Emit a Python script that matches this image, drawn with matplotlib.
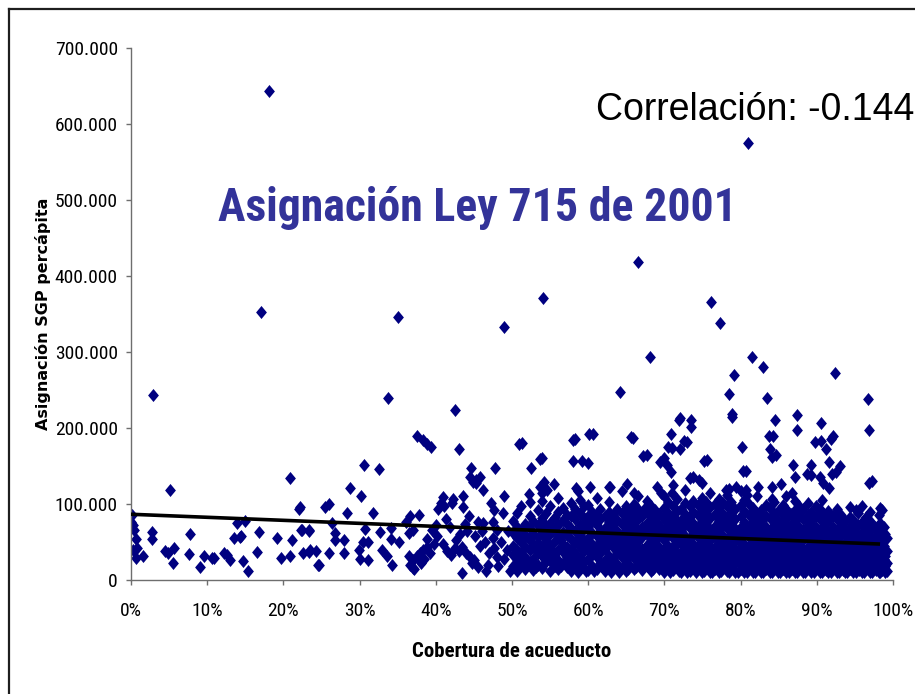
import os
import numpy as np
import matplotlib
matplotlib.use("Agg")
import matplotlib.pyplot as plt
from matplotlib.path import Path
from matplotlib.lines import Line2D
from matplotlib import font_manager as fm

# ---------------- data (cobertura fraction, asignación in miles de pesos) ----------------
puntos_0_25 = [
    (0.001, 86), (0.002, 72), (0.000, 76), (0.004, 66), (0.007, 54), (0.003, 39), (0.008, 42),
    (0.007, 29), (0.016, 32), (0.028, 63), (0.028, 54), (0.045, 38), (0.048, 35), (0.055, 22),
    (0.057, 42), (0.051, 118), (0.0285, 244), (0.076, 34), (0.078, 60), (0.090, 17), (0.096, 32),
    (0.106, 29), (0.109, 29), (0.122, 35), (0.126, 33), (0.130, 26), (0.135, 55), (0.143, 57),
    (0.144, 58), (0.139, 75), (0.150, 77), (0.147, 25), (0.153, 12), (0.165, 37), (0.168, 63),
    (0.171, 353), (0.181, 643), (0.191, 55), (0.197, 29), (0.209, 32), (0.209, 134), (0.211, 52),
    (0.221, 94), (0.223, 66), (0.226, 35), (0.234, 37), (0.243, 38), (0.234, 66), (0.245, 20),
]

puntos_22_50 = [
    (0.222, 96), (0.254, 96), (0.260, 100), (0.283, 88), (0.318, 88), (0.264, 75), (0.225, 66),
    (0.233, 64), (0.268, 62), (0.268, 52), (0.280, 52), (0.235, 39), (0.247, 20), (0.260, 35),
    (0.280, 35), (0.299, 39), (0.305, 50), (0.311, 50), (0.311, 26), (0.300, 28), (0.307, 67),
    (0.327, 63), (0.330, 39), (0.336, 31), (0.343, 20), (0.341, 54), (0.352, 50), (0.341, 68),
    (0.361, 76), (0.366, 84), (0.378, 85), (0.365, 62), (0.370, 66), (0.365, 31), (0.370, 26),
    (0.375, 31), (0.379, 35), (0.383, 39), (0.388, 43), (0.366, 20), (0.370, 16), (0.389, 54),
    (0.395, 66), (0.400, 72), (0.403, 93), (0.407, 101), (0.409, 109), (0.421, 101), (0.436, 110),
    (0.436, 96), (0.287, 121), (0.302, 110), (0.306, 151), (0.325, 146), (0.337, 239),
    (0.350, 346), (0.375, 190), (0.383, 184), (0.388, 179), (0.394, 175), (0.425, 224),
    (0.430, 172), (0.446, 148), (0.445, 135), (0.449, 129), (0.453, 127), (0.458, 135),
    (0.462, 118), (0.434, 9), (0.410, 47), (0.415, 38), (0.420, 33), (0.425, 42), (0.430, 38),
    (0.435, 44), (0.440, 35), (0.445, 30), (0.450, 26), (0.432, 60), (0.441, 64), (0.452, 58),
    (0.460, 64), (0.447, 22), (0.455, 17), (0.466, 12), (0.470, 36), (0.476, 42), (0.480, 30),
    (0.486, 50), (0.478, 148), (0.490, 333), (0.472, 101), (0.477, 92), (0.455, 76), (0.462, 75),
    (0.475, 76), (0.480, 66), (0.465, 50), (0.488, 88), (0.458, 45), (0.468, 20), (0.475, 55),
    (0.490, 28), (0.494, 40), (0.495, 65), (0.372, 15), (0.380, 22), (0.385, 28), (0.392, 36),
    (0.397, 48), (0.402, 58), (0.423, 106), (0.411, 97), (0.413, 80), (0.418, 70), (0.427, 52),
    (0.438, 74), (0.444, 84), (0.482, 18), (0.498, 12), (0.489, 110),
]

puntos_altos = [
    (0.541, 371), (0.666, 419), (0.681, 293), (0.642, 247), (0.761, 366), (0.773, 338),
    (0.810, 575), (0.815, 293), (0.829, 280), (0.924, 272), (0.791, 270), (0.785, 245),
    (0.834, 239), (0.967, 238), (0.789, 219), (0.789, 215), (0.845, 211), (0.874, 217),
    (0.874, 197), (0.906, 206), (0.969, 197), (0.720, 213), (0.735, 211), (0.735, 201),
    (0.709, 192), (0.705, 175), (0.720, 173), (0.726, 183), (0.837, 189), (0.839, 173),
    (0.841, 162), (0.898, 181), (0.912, 173), (0.921, 190), (0.918, 186), (0.802, 175),
    (0.803, 143), (0.752, 156), (0.916, 155), (0.920, 140), (0.916, 121), (0.969, 127),
    (0.869, 151), (0.871, 135), (0.892, 151), (0.892, 138), (0.904, 135), (0.694, 155),
    (0.699, 160), (0.703, 151), (0.709, 142), (0.733, 134), (0.746, 131), (0.749, 127),
    (0.781, 118), (0.794, 122), (0.807, 118), (0.823, 122), (0.841, 122), (0.853, 126),
    (0.509, 179), (0.580, 184), (0.601, 192), (0.656, 188), (0.672, 163), (0.719, 211),
    (0.525, 147), (0.537, 159), (0.580, 156), (0.600, 154), (0.522, 113), (0.537, 122),
    (0.542, 129), (0.540, 114), (0.546, 118), (0.555, 126), (0.584, 121), (0.602, 122),
    (0.627, 122), (0.651, 126), (0.660, 114), (0.690, 122), (0.696, 114), (0.710, 114),
    (0.677, 165), (0.710, 174), (0.730, 182), (0.905, 183), (0.846, 164), (0.842, 190),
    (0.908, 127), (0.887, 139), (0.931, 150), (0.925, 142), (0.973, 130), (0.807, 144),
    (0.738, 136), (0.756, 158), (0.629, 123), (0.586, 117), (0.592, 156), (0.540, 161),
    (0.453, 132), (0.583, 185), (0.606, 192), (0.659, 187), (0.513, 180),
]

# dense cloud 50%-99%: (cobertura, [asignaciones])
nube_50_60 = [
    (0.501, [18, 33, 45, 62, 78]), (0.506, [12, 27, 40, 55, 70, 88]),
    (0.512, [22, 36, 50, 64, 97]), (0.517, [15, 30, 44, 58, 74]),
    (0.523, [24, 39, 52, 68, 84, 103]), (0.528, [13, 28, 47, 61, 77]),
    (0.534, [20, 35, 49, 57, 72, 92]), (0.539, [16, 31, 43, 66, 81, 104]),
    (0.545, [25, 38, 53, 70, 88]), (0.550, [12, 29, 45, 60, 75, 98]),
    (0.556, [19, 34, 51, 66, 83]), (0.561, [14, 26, 40, 56, 72, 90, 108]),
    (0.567, [22, 37, 48, 63, 79, 95]), (0.572, [17, 30, 44, 59, 74, 86]),
    (0.578, [12, 27, 41, 54, 69, 84, 101]), (0.583, [21, 35, 50, 65, 80, 93]),
    (0.589, [15, 29, 43, 58, 73, 88, 105]), (0.594, [24, 38, 52, 67, 82, 97]),
    (0.509, [19, 34]), (0.520, [20, 57]), (0.531, [17, 40]),
    (0.542, [21, 58, 75]), (0.553, [22, 40, 71]), (0.564, [18, 53]),
    (0.575, [20, 35, 64]), (0.586, [10, 25, 55]), (0.597, [12, 45, 74]),
]
nube_60_70 = [
    (0.600, [13, 27, 40, 55, 70, 84, 99]), (0.605, [19, 33, 48, 62, 77, 90]),
    (0.611, [15, 30, 44, 58, 73, 87, 108]), (0.616, [22, 36, 51, 65, 80, 94]),
    (0.622, [12, 26, 41, 55, 69, 84]), (0.627, [18, 32, 47, 61, 76, 90, 103]),
    (0.633, [14, 28, 43, 57, 72, 86]), (0.638, [21, 35, 50, 64, 79, 93]),
    (0.644, [16, 30, 45, 59, 74, 88, 117]), (0.649, [12, 25, 39, 53, 68, 82, 97]),
    (0.655, [19, 34, 48, 62, 77, 91]), (0.660, [15, 29, 43, 57, 71, 85, 100]),
    (0.666, [22, 36, 51, 65, 80, 94, 111]), (0.671, [13, 27, 41, 56, 70, 84]),
    (0.677, [18, 32, 46, 60, 75, 89, 104]), (0.682, [12, 26, 40, 54, 69, 83, 98]),
    (0.688, [20, 34, 49, 63, 77, 92]), (0.693, [15, 29, 44, 58, 72, 87]),
    (0.608, [12, 41, 84]), (0.619, [16, 46, 59]), (0.630, [10, 25, 54, 68]),
    (0.641, [11, 40, 55]), (0.652, [15, 30, 60, 75]), (0.663, [17, 47, 61]),
    (0.674, [20, 35, 64, 95]), (0.685, [15, 30, 58, 88]), (0.696, [19, 33, 62]),
]
nube_70_80 = [
    (0.700, [11, 24, 38, 52, 66, 80, 95, 110]), (0.705, [17, 31, 45, 59, 73, 88, 102]),
    (0.711, [13, 27, 41, 55, 69, 84, 98, 125]), (0.716, [20, 34, 48, 62, 77, 91, 106]),
    (0.722, [10, 23, 37, 51, 65, 79, 94]), (0.727, [16, 30, 44, 58, 72, 87, 101, 118]),
    (0.733, [12, 26, 40, 54, 68, 83, 97]), (0.738, [19, 33, 47, 61, 75, 90, 104]),
    (0.744, [14, 28, 42, 56, 70, 85, 99]), (0.749, [10, 22, 36, 50, 64, 78, 93, 108]),
    (0.755, [17, 31, 45, 59, 73, 88, 102]), (0.760, [11, 25, 39, 53, 67, 81, 96, 115]),
    (0.766, [15, 29, 43, 57, 71, 86, 100]), (0.771, [10, 21, 35, 49, 63, 77, 92, 106]),
    (0.777, [16, 30, 44, 58, 72, 87, 101]), (0.782, [12, 26, 40, 54, 68, 82, 97, 112]),
    (0.788, [18, 32, 46, 60, 74, 89, 103]), (0.793, [10, 23, 37, 51, 65, 80, 94]),
    (0.702, [15, 29, 44, 58]), (0.708, [10, 22, 36, 64, 79]),
    (0.713, [17, 32, 46, 75]), (0.719, [12, 27, 55, 70]),
    (0.724, [18, 31, 45, 60]), (0.730, [10, 21, 35, 49, 78]),
    (0.735, [15, 30, 58, 73]), (0.741, [11, 24, 38, 66]),
    (0.746, [17, 32, 46, 60]), (0.752, [12, 26, 40, 55, 84]),
    (0.757, [19, 34, 48, 62]), (0.763, [10, 22, 36, 64]),
    (0.768, [16, 31, 45, 59, 88]), (0.774, [12, 26, 40, 54, 68]),
    (0.779, [19, 34, 48, 77]), (0.785, [10, 22, 36, 50, 120]),
    (0.790, [15, 29, 43, 57, 71]), (0.796, [11, 26, 40, 55]),
]
nube_80_90 = [
    (0.800, [14, 28, 42, 56, 70, 84, 99, 117]), (0.805, [10, 20, 34, 48, 62, 76, 91, 105]),
    (0.811, [15, 29, 43, 57, 71, 86, 100]), (0.816, [11, 24, 38, 52, 66, 80, 95]),
    (0.822, [17, 31, 45, 59, 73, 88, 110]), (0.827, [10, 21, 35, 49, 63, 77, 92]),
    (0.833, [14, 28, 42, 56, 70, 84, 99]), (0.838, [11, 24, 38, 52, 66, 81, 95]),
    (0.844, [17, 31, 45, 59, 73, 87, 102]), (0.849, [10, 21, 35, 49, 63, 77, 91]),
    (0.855, [14, 28, 42, 56, 70, 85, 99]), (0.860, [11, 24, 38, 52, 66, 80, 94, 110]),
    (0.866, [17, 31, 45, 59, 73, 87]), (0.871, [10, 21, 35, 49, 63, 77, 92, 104]),
    (0.877, [14, 28, 42, 56, 70, 84, 98]), (0.882, [11, 24, 38, 52, 66, 80, 94]),
    (0.888, [16, 30, 44, 58, 72, 86, 101]), (0.893, [10, 21, 35, 49, 63, 77, 90]),
    (0.802, [17, 32, 46, 60]), (0.808, [11, 25, 39, 67, 112]),
    (0.813, [18, 33, 47, 61]), (0.819, [10, 21, 35, 63]),
    (0.824, [14, 28, 42, 56, 84]), (0.830, [11, 24, 38, 66]),
    (0.835, [18, 32, 46, 60]), (0.841, [10, 21, 35, 49, 106]),
    (0.846, [14, 28, 42, 70]), (0.852, [11, 24, 38, 52]),
    (0.857, [17, 31, 45, 73]), (0.863, [10, 20, 34, 48, 62]),
    (0.868, [14, 28, 42, 56, 115]), (0.874, [11, 24, 38, 80]),
    (0.879, [17, 31, 45, 59]), (0.885, [10, 20, 34, 62]),
    (0.890, [14, 28, 42, 56]), (0.896, [11, 24, 38, 66]),
]
nube_90_99 = [
    (0.899, [14, 28, 42, 56, 70, 84, 97]), (0.904, [11, 24, 38, 52, 66, 80, 93]),
    (0.910, [17, 31, 45, 59, 73, 87]), (0.915, [10, 21, 35, 49, 63, 77, 91]),
    (0.921, [14, 28, 42, 56, 70, 84]), (0.926, [11, 24, 38, 52, 66, 80, 94]),
    (0.932, [17, 31, 45, 59, 73, 86]), (0.937, [10, 21, 35, 49, 63, 77]),
    (0.943, [14, 28, 42, 56, 70, 83, 96]), (0.948, [11, 24, 38, 52, 66, 79]),
    (0.954, [17, 31, 45, 59, 72, 88]), (0.959, [10, 21, 35, 49, 62, 76, 98]),
    (0.965, [14, 28, 42, 55, 68, 83]), (0.970, [11, 24, 38, 51, 64, 78, 90]),
    (0.976, [16, 30, 43, 57, 70]), (0.981, [10, 21, 34, 48, 62, 85]),
    (0.986, [13, 26, 40, 54, 92]), (0.990, [10, 18, 32, 60]),
    (0.901, [17, 31, 45, 59]), (0.907, [10, 20, 34, 62, 105]),
    (0.912, [13, 27, 41, 55]), (0.918, [11, 24, 38, 66]),
    (0.923, [17, 31, 45, 59]), (0.929, [10, 20, 34, 48]),
    (0.934, [13, 27, 41, 69]), (0.940, [11, 24, 38, 52]),
    (0.945, [17, 31, 45, 59]), (0.951, [10, 20, 34, 62, 92]),
    (0.956, [13, 27, 41, 55]), (0.962, [11, 24, 38, 66]),
    (0.967, [17, 31, 45, 59, 72]), (0.973, [10, 20, 34, 48]),
    (0.978, [13, 27, 41, 55, 68]), (0.983, [11, 24, 38, 52, 75, 95]),
    (0.988, [15, 28, 45, 70]), (0.992, [12, 22, 38, 55]),
]

tendencia_x = [0.0, 0.983]
tendencia_y = [86500, 47300]

x_ticks = [0.0, 0.1, 0.2, 0.3, 0.4, 0.5, 0.6, 0.7, 0.8, 0.9, 1.0]
y_ticks = [0, 100000, 200000, 300000, 400000, 500000, 600000, 700000]

titulo = "Asignación Ley 715 de 2001"
correlacion = "Correlación: -0.144"
x_label = "Cobertura de acueducto"
y_label = "Asignación SGP percápita"

# ---------------- assemble ----------------
xs, ys = [], []
for grupo in (puntos_0_25, puntos_22_50, puntos_altos):
    for cx, cy in grupo:
        xs.append(cx)
        ys.append(cy * 1000)
for nube in (nube_50_60, nube_60_70, nube_70_80, nube_80_90, nube_90_99):
    for cx, lista in nube:
        for cy in lista:
            xs.append(cx)
            ys.append(cy * 1000)


# ---------------- fonts: look for a narrow sans face ----------------
def find_narrow(bold):
    prio = [("liberationsansnarrow", 0), ("arialnarrow", 1), ("arialn", 1),
            ("robotocondensed", 2), ("notosans-condensed", 3), ("notosanscondensed", 3),
            ("dejavusanscondensed", 4), ("opensanscondensed", 5), ("opensans_condensed", 5)]
    best = None
    for f in fm.fontManager.ttflist:
        base = os.path.basename(f.fname).lower()
        if not base.endswith((".ttf", ".otf")):
            continue
        if any(k in base for k in ("italic", "oblique", "mono", "extracond", "semicond",
                                   "ultracond", "light", "thin", "medium", "black")):
            continue
        if "serif" in base and "sans" not in base:
            continue
        isbold = "bold" in base and "semibold" not in base and "extrabold" not in base
        if bold != isbold:
            continue
        p = None
        for key, val in prio:
            if key in base.replace("_", "").replace(" ", "") or key in base:
                p = val
                break
        if p is None:
            continue
        if best is None or p < best[0]:
            best = (p, f.fname)
    return best[1] if best else None


reg_path = find_narrow(False)
bold_path = find_narrow(True)
have_narrow = reg_path is not None and bold_path is not None
if have_narrow:
    def fp_reg(size):
        return fm.FontProperties(fname=reg_path, size=size)

    def fp_bold(size):
        return fm.FontProperties(fname=bold_path, size=size)
    k = 1.0
else:
    def fp_reg(size):
        return fm.FontProperties(family=["Liberation Sans", "DejaVu Sans"], size=size)

    def fp_bold(size):
        return fm.FontProperties(family=["Liberation Sans", "DejaVu Sans"], weight="bold", size=size)
    k = 0.84

# ---------------- figure ----------------
W, H = 915, 694
fig = plt.figure(figsize=(W / 100, H / 100), dpi=100)
fig.patch.set_facecolor("white")

ax = fig.add_axes([131 / W, 1 - 580 / H, (893 - 131) / W, (580 - 48) / H])
ax.set_xlim(0, 1)
ax.set_ylim(0, 700000)

diamond = Path([(0, 1), (0.83, 0), (0, -1), (-0.83, 0), (0, 1)],
               [Path.MOVETO, Path.LINETO, Path.LINETO, Path.LINETO, Path.CLOSEPOLY])
ax.scatter(xs, ys, marker=diamond, s=88, color="#000080", linewidths=0, zorder=2)
ax.plot(tendencia_x, tendencia_y, color="black", lw=2.6, zorder=3, solid_capstyle="butt")

for side in ("top", "right"):
    ax.spines[side].set_visible(False)
for side in ("left", "bottom"):
    ax.spines[side].set_color("#6e6e6e")
    ax.spines[side].set_linewidth(1.0)

tick_fp = fp_reg(14 * k)
ax.set_xticks(x_ticks, labels=[f"{v * 100:.0f}%" for v in x_ticks], fontproperties=tick_fp)
ax.set_yticks(y_ticks, labels=[f"{v:,.0f}".replace(",", ".") for v in y_ticks],
              fontproperties=tick_fp)
ax.tick_params(axis="both", direction="out", length=3.5, width=1.0, color="#6e6e6e",
               labelcolor="black")
ax.tick_params(axis="x", pad=12)
ax.tick_params(axis="y", pad=6)

ax.set_xlabel(x_label, fontproperties=fp_bold(15 * k), labelpad=16)
ax.set_ylabel(y_label, family=["DejaVu Sans"], fontsize=11.5, fontweight="bold", labelpad=3)

fig.text(218 / W, 1 - 221 / H, titulo, fontproperties=fp_bold(33 * (k if not have_narrow else 1.0)),
         color="#333399", ha="left", va="baseline")
fig.text(596 / W, 1 - 120 / H, correlacion, family=["Liberation Sans", "DejaVu Sans"],
         fontsize=27, color="black", ha="left", va="baseline")

# outer chart frame (top and left edges visible)
fig.add_artist(Line2D([9 / W, 1.0], [1 - 9 / H, 1 - 9 / H], color="#1e1e1e", lw=1.6,
                      transform=fig.transFigure))
fig.add_artist(Line2D([9 / W, 9 / W], [0.0, 1 - 9 / H], color="#1e1e1e", lw=1.6,
                      transform=fig.transFigure))

fig.savefig("out.png", dpi=100, facecolor="white")
